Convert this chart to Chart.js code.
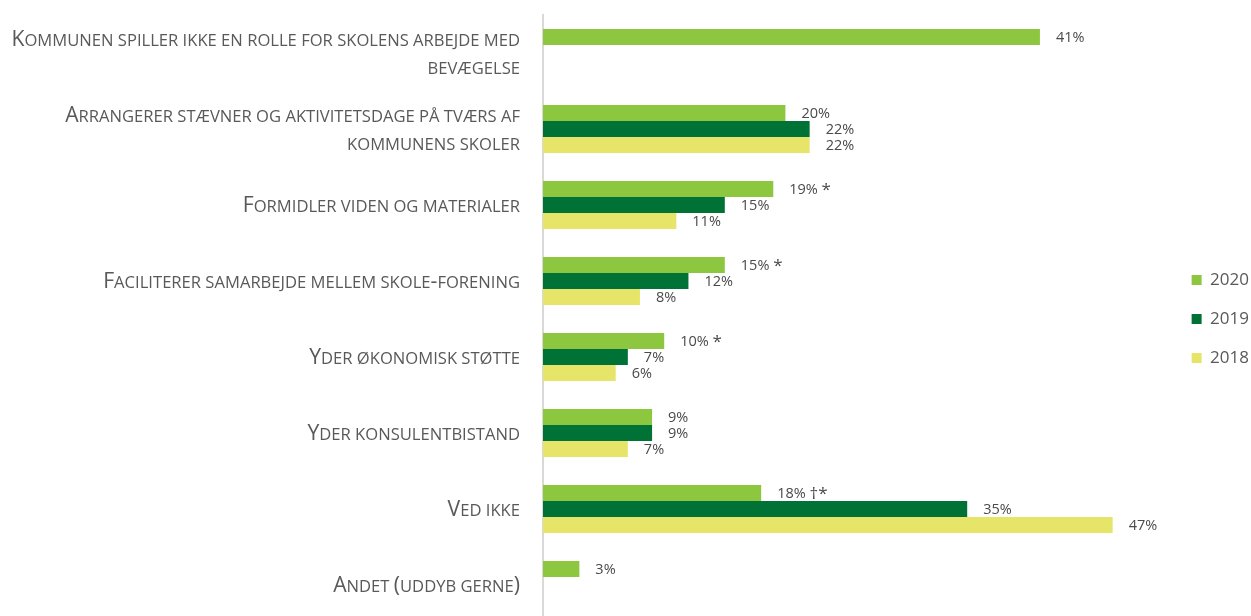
<!DOCTYPE html>
<html>
<head>
<meta charset="utf-8">
<script src="https://cdn.jsdelivr.net/npm/chart.js@4/dist/chart.umd.min.js"></script>
<style>
    html, body { margin: 0; padding: 0; background: #fff; overflow: hidden; }
    #wrap { width: 1251px; height: 616px; overflow: hidden; }
</style>
</head>
<body>
<div id="wrap"><canvas id="chart" width="1251" height="624"></canvas></div>
<script>
const categories = [
    ['Kommunen spiller ikke en rolle for skolens arbejde med', 'bevægelse'],
    ['Arrangerer stævner og aktivitetsdage på tværs af', 'kommunens skoler'],
    ['Formidler viden og materialer'],
    ['Faciliterer samarbejde mellem skole-forening'],
    ['Yder økonomisk støtte'],
    ['Yder konsulentbistand'],
    ['Ved ikke'],
    ['Andet (uddyb gerne)']
];
const years = ['2020', '2019', '2018'];
const values2020 = [41, 20, 19, 15, 10, 9, 18, 3];
const values2019 = [null, 22, 15, 12, 7, 9, 35, null];
const values2018 = [null, 22, 11, 8, 6, 7, 47, null];
// significance marks shown after the 2020 labels
const marks2020 = ['', '', '*', '*', '*', '', '†*', ''];

const colors = ['#8dc63f', '#007236', '#e6e56a'];
const textColor = '#595959';
const family = '"Open Sans", "Noto Sans", sans-serif';

// lowercase letters are drawn as smaller capitals
function drawSmallCaps(ctx, text, xRight, baseline) {
    const big = 21.2, small = 16.6;
    const runs = [];
    for (const ch of text) {
        const lower = ch !== ch.toUpperCase() || ch === ' ';
        const size = lower ? small : big;
        const last = runs[runs.length - 1];
        if (last && last.size === size) last.t += ch.toUpperCase();
        else runs.push({t: ch.toUpperCase(), size});
    }
    let total = 0;
    runs.forEach(r => {
        ctx.font = r.size + 'px ' + family;
        r.w = ctx.measureText(r.t).width;
        total += r.w;
    });
    let x = xRight - total;
    runs.forEach(r => {
        ctx.font = r.size + 'px ' + family;
        ctx.fillText(r.t, x, baseline);
        x += r.w;
    });
}

const categoryLabels = {
    id: 'categoryLabels',
    afterDraw(chart) {
        const ctx = chart.ctx;
        const y = chart.scales.y;
        ctx.save();
        ctx.fillStyle = textColor;
        ctx.textAlign = 'left';
        ctx.textBaseline = 'alphabetic';
        categories.forEach((lines, i) => {
            const cy = y.getPixelForValue(i);
            const start = cy - (lines.length - 1) * 14 + 7;
            lines.forEach((line, k) => drawSmallCaps(ctx, line, 520, start + k * 28));
        });
        ctx.restore();
    }
};

const valueLabels = {
    id: 'valueLabels',
    afterDatasetsDraw(chart) {
        const ctx = chart.ctx;
        ctx.save();
        ctx.fillStyle = '#4a4a4a';
        ctx.textBaseline = 'middle';
        ctx.textAlign = 'left';
        chart.data.datasets.forEach((ds, d) => {
            chart.getDatasetMeta(d).data.forEach((bar, i) => {
                const v = ds.data[i];
                if (v === null) return;
                const txt = v + '%';
                ctx.font = '14.5px ' + family;
                const x = bar.x + 16;
                ctx.fillText(txt, x, bar.y + 1);
                if (d === 0 && marks2020[i]) {
                    const w = ctx.measureText(txt + ' ').width;
                    ctx.font = '17px ' + family;
                    ctx.fillText(marks2020[i], x + w, bar.y + 1);
                }
            });
        });
        ctx.restore();
    }
};

new Chart(document.getElementById('chart'), {
    type: 'bar',
    data: {
        labels: categories,
        datasets: [
            {label: years[0], data: values2020, backgroundColor: colors[0]},
            {label: years[1], data: values2019, backgroundColor: colors[1]},
            {label: years[2], data: values2018, backgroundColor: colors[2]}
        ]
    },
    options: {
        indexAxis: 'y',
        responsive: false,
        animation: false,
        categoryPercentage: 0.63,
        barPercentage: 1,
        layout: {padding: {top: 15, bottom: 1, left: 0, right: -8}},
        scales: {
            x: {display: false, min: 0, max: 51.7},
            y: {
                grid: {display: false},
                border: {color: '#d9d9d9', width: 2},
                ticks: {display: false},
                afterFit(scale) { scale.width = 543; }
            }
        },
        plugins: {
            tooltip: {enabled: false},
            legend: {
                position: 'right',
                align: 'center',
                labels: {
                    boxWidth: 10,
                    boxHeight: 10,
                    padding: 22,
                    color: textColor,
                    font: {size: 17, family: family}
                }
            }
        }
    },
    plugins: [categoryLabels, valueLabels]
});
</script>
</body>
</html>
